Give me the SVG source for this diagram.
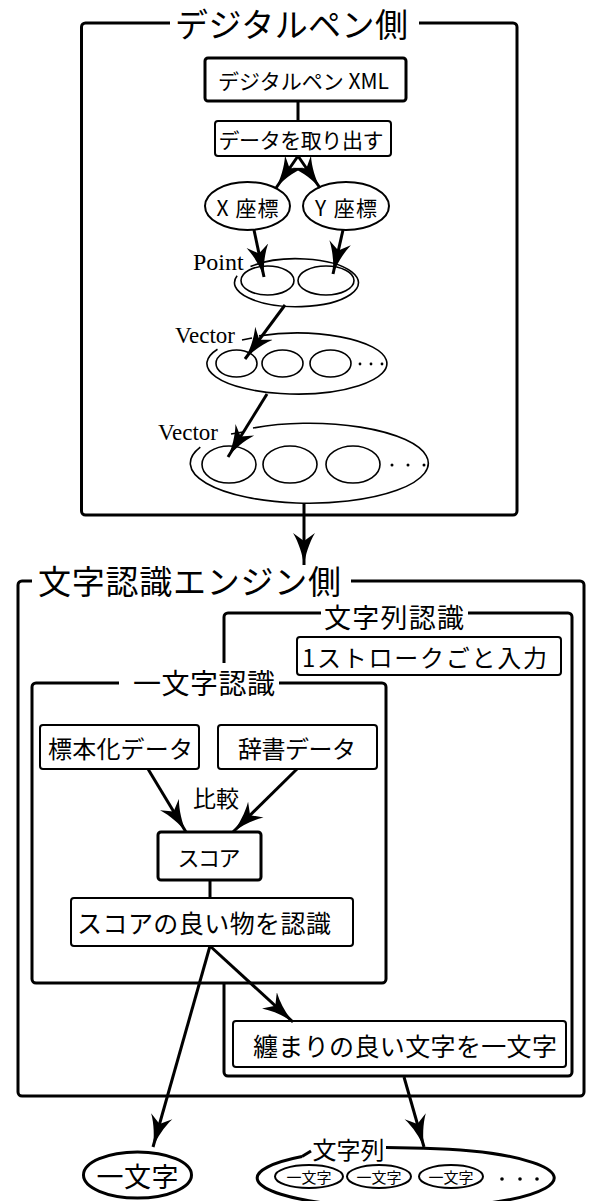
<svg xmlns="http://www.w3.org/2000/svg" width="589" height="1201" viewBox="0 0 589 1201">
<style>
  .frame{fill:none;stroke:#000;stroke-width:3}
  .frameW{fill:#fff;stroke:#000;stroke-width:3}
  .box{fill:#fff;stroke:#000;stroke-width:2}
  .boxT{fill:#fff;stroke:#000;stroke-width:3}
  .ell{fill:#fff;stroke:#000;stroke-width:2}
  .thin{fill:none;stroke:#000;stroke-width:1.6}
  .thick{fill:none;stroke:#000;stroke-width:3}
  .bg{fill:#fff;stroke:none}
  .jp{font-family:"Noto Sans CJK JP","Noto Sans",sans-serif;fill:#000;text-anchor:middle;dominant-baseline:central}
  .ser{font-family:"Liberation Serif",serif;fill:#000}
  .conn{fill:none;stroke:#000;stroke-width:3}
  .arr{marker-end:url(#ah)}
</style>
<defs>
  <marker id="ah" markerUnits="userSpaceOnUse" markerWidth="34" markerHeight="24" refX="32" refY="12" orient="auto" viewBox="0 0 34 24">
    <path d="M32,12 C22,10.5 10,7 0,1 L8,12 L0,23 C10,17 22,13.5 32,12 Z" fill="#000"/>
  </marker>
</defs>

<!-- Frames -->
<g id="frame-pen">
  <rect class="frame" x="81.5" y="23" width="435.5" height="492" rx="4"/>
  <rect class="bg" x="170" y="6" width="249" height="34"/>
  <text class="jp" x="291.5" y="23" font-size="33" textLength="233" lengthAdjust="spacing">デジタルペン側</text>
</g>
<g id="frame-engine">
  <rect class="frame" x="18" y="581" width="566" height="515" rx="4"/>
  <rect class="bg" x="32" y="564" width="319" height="34"/>
  <text class="jp" x="189.5" y="580" font-size="33" textLength="303" lengthAdjust="spacing">文字認識エンジン側</text>
</g>
<g id="frame-string">
  <rect class="frame" x="224" y="613" width="348" height="463" rx="4"/>
  <rect class="bg" x="321" y="600" width="147" height="30"/>
  <text class="jp" x="394" y="616" font-size="27" textLength="140" lengthAdjust="spacing">文字列認識</text>
</g>
<g id="frame-char">
  <rect class="frameW" x="32" y="683" width="354" height="300" rx="4"/>
  <rect class="bg" x="119" y="663" width="160" height="36"/>
  <text class="jp" x="204" y="682" font-size="28" textLength="142" lengthAdjust="spacing">一文字認識</text>
</g>

<!-- Digital pen side nodes -->
<g id="xml">
  <rect class="boxT" x="205" y="58" width="201" height="43" rx="3"/>
  <text class="jp" x="303.5" y="80" font-size="21" textLength="171" lengthAdjust="spacing">デジタルペン XML</text>
</g>
<g id="extract">
  <rect class="box" x="215" y="121" width="176" height="35" rx="3"/>
  <text class="jp" x="301" y="139" font-size="21" textLength="165" lengthAdjust="spacing">データを取り出す</text>
</g>
<g id="xcoord">
  <ellipse class="ell" cx="247.5" cy="206" rx="42.5" ry="24"/>
  <text class="jp" x="247.5" y="207" font-size="21" textLength="62" lengthAdjust="spacing">X 座標</text>
</g>
<g id="ycoord">
  <ellipse class="ell" cx="346" cy="206" rx="43" ry="24"/>
  <text class="jp" x="346" y="207" font-size="21" textLength="62" lengthAdjust="spacing">Y 座標</text>
</g>
<g id="point">
  <path class="thin" d="M250.5,266.6 A62,24 0 1 1 237.1,275.8"/>
  <ellipse class="thin" cx="267.5" cy="280.5" rx="26.5" ry="14.5"/>
  <ellipse class="thin" cx="326" cy="280.5" rx="28" ry="14.5"/>
  <text class="ser" x="193" y="270" font-size="24">Point</text>
</g>
<g id="vector1">
  <path class="thin" d="M259,335.9 A90,30.5 0 1 1 217.5,349.2"/>
  <line class="thin" x1="242" y1="340" x2="252" y2="338"/>
  <ellipse class="thin" cx="236.5" cy="363.5" rx="20.5" ry="13.5"/>
  <ellipse class="thin" cx="282.5" cy="363.5" rx="20.5" ry="13.5"/>
  <ellipse class="thin" cx="330.5" cy="363.5" rx="20.5" ry="13.5"/>
  <circle cx="360" cy="364" r="1.4" fill="#000"/>
  <circle cx="371" cy="364" r="1.4" fill="#000"/>
  <circle cx="382" cy="364" r="1.4" fill="#000"/>
  <text class="ser" x="175" y="343" font-size="23">Vector</text>
</g>
<g id="vector2">
  <path class="thin" d="M253,428 A119,40 0 1 1 200.3,447.2"/>
  <line class="thin" x1="231" y1="434" x2="243" y2="432"/>
  <ellipse class="thin" cx="229" cy="464.5" rx="27" ry="18.5"/>
  <ellipse class="thin" cx="290" cy="464.5" rx="27" ry="18.5"/>
  <ellipse class="thin" cx="353" cy="464.5" rx="27" ry="18.5"/>
  <circle cx="392" cy="465" r="1.5" fill="#000"/>
  <circle cx="408" cy="465" r="1.5" fill="#000"/>
  <circle cx="424" cy="465" r="1.5" fill="#000"/>
  <text class="ser" x="158" y="440" font-size="23">Vector</text>
</g>

<!-- Engine side nodes -->
<g id="stroke-input">
  <rect class="box" x="297" y="637" width="264" height="38" rx="3"/>
  <text class="jp" x="424.5" y="656" font-size="24" textLength="245" lengthAdjust="spacing">1ストロークごと入力</text>
</g>
<g id="normalized">
  <rect class="box" x="40" y="725" width="159" height="44" rx="3"/>
  <text class="jp" x="120.5" y="747" font-size="24" textLength="145" lengthAdjust="spacing">標本化データ</text>
</g>
<g id="dictionary">
  <rect class="box" x="218" y="725" width="159" height="44" rx="3"/>
  <text class="jp" x="297" y="747" font-size="24" textLength="118" lengthAdjust="spacing">辞書データ</text>
</g>
<g id="compare-label">
  <text class="jp" x="216" y="797" font-size="23">比較</text>
</g>
<g id="score">
  <rect class="boxT" x="158" y="832" width="103" height="48" rx="3"/>
  <text class="jp" x="209" y="856" font-size="22" textLength="63" lengthAdjust="spacing">スコア</text>
</g>
<g id="recognize-best">
  <rect class="box" x="71" y="898" width="282" height="48" rx="3"/>
  <text class="jp" x="204" y="922" font-size="25" textLength="254" lengthAdjust="spacing">スコアの良い物を認識</text>
</g>
<g id="group-best">
  <rect class="box" x="233" y="1021" width="333" height="46" rx="3"/>
  <text class="jp" x="405" y="1045" font-size="25" textLength="304" lengthAdjust="spacing">纏まりの良い文字を一文字</text>
</g>

<!-- Outputs -->
<g id="out-char">
  <ellipse class="thick" cx="137.5" cy="1175" rx="54" ry="23"/>
  <text class="jp" x="137.5" y="1175" font-size="27" textLength="82" lengthAdjust="spacing">一文字</text>
</g>
<g id="out-string">
  <path class="thick" d="M424,1148.2 A148.5,30 0 1 1 302,1156.5"/>
  <line class="thick" x1="302" y1="1156.5" x2="311" y2="1151"/>
  <line class="thick" x1="386" y1="1147.5" x2="424" y2="1148.2"/>
  <text class="jp" x="348.5" y="1148" font-size="24">文字列</text>
  <ellipse class="ell" cx="309" cy="1176.5" rx="34" ry="11.5"/>
  <ellipse class="ell" cx="379" cy="1176.5" rx="32" ry="11.5"/>
  <ellipse class="ell" cx="451" cy="1176.5" rx="32" ry="11.5"/>
  <text class="jp" x="309" y="1176.5" font-size="15">一文字</text>
  <text class="jp" x="379" y="1176.5" font-size="15">一文字</text>
  <text class="jp" x="451" y="1176.5" font-size="15">一文字</text>
  <circle cx="502" cy="1179" r="1.8" fill="#000"/>
  <circle cx="520" cy="1179" r="1.8" fill="#000"/>
  <circle cx="537" cy="1179" r="1.8" fill="#000"/>
</g>

<!-- Connectors -->
<g id="connectors">
  <line class="conn" x1="298" y1="101" x2="298" y2="121"/>
  <line class="conn arr" x1="298" y1="156" x2="276" y2="188"/>
  <line class="conn arr" x1="298" y1="156" x2="320" y2="188"/>
  <line class="conn arr" x1="254" y1="230" x2="264" y2="277"/>
  <line class="conn arr" x1="343" y1="230" x2="333" y2="274"/>
  <line class="conn arr" x1="285" y1="305" x2="245" y2="359"/>
  <line class="conn arr" x1="267" y1="394" x2="228" y2="457"/>
  <line class="conn arr" x1="304" y1="503" x2="304" y2="565"/>
  <line class="conn arr" x1="148" y1="769" x2="186" y2="832"/>
  <line class="conn arr" x1="297" y1="769" x2="233" y2="832"/>
  <line class="conn" x1="210" y1="880" x2="210" y2="898"/>
  <line class="conn arr" x1="210" y1="946" x2="293" y2="1022"/>
  <line class="conn arr" x1="210" y1="946" x2="153" y2="1147"/>
  <line class="conn arr" x1="404" y1="1077" x2="424" y2="1147"/>
</g>
</svg>
